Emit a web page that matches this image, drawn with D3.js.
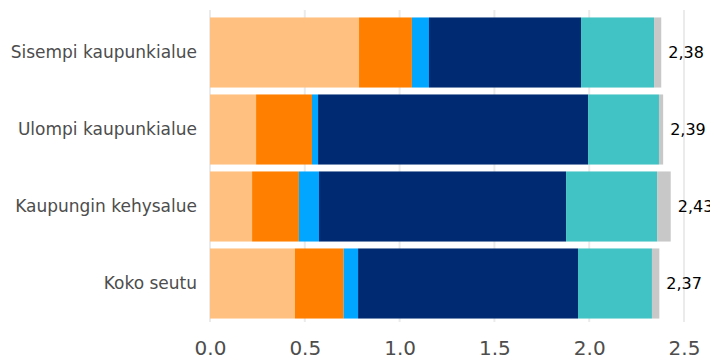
<!DOCTYPE html>
<html>
<head>
<meta charset="utf-8">
<script src="https://cdn.jsdelivr.net/npm/d3@7"></script>
<style>
  body { margin: 0; background: #fff; }
  text { font-family: 'DejaVu Sans', Verdana, sans-serif; }
</style>
</head>
<body>
<div id="chart"></div>
<script>
const categories = ['Sisempi kaupunkialue', 'Ulompi kaupunkialue', 'Kaupungin kehysalue', 'Koko seutu']
const seriesKeys = ['s1', 's2', 's3', 's4', 's5', 's6']
const seriesColors = ['#ffc080', '#ff8000', '#00a6ff', '#002b73', '#41c2c4', '#c8c8c8']
const s1 = [0.786, 0.243, 0.222, 0.448]
const s2 = [0.279, 0.295, 0.247, 0.257]
const s3 = [0.090, 0.032, 0.106, 0.076]
const s4 = [0.802, 1.424, 1.303, 1.160]
const s5 = [0.385, 0.374, 0.480, 0.390]
const s6 = [0.038, 0.022, 0.072, 0.039]
const totalLabels = ['2,38', '2,39', '2,43', '2,37']
const xTicks = [0, 0.5, 1, 1.5, 2, 2.5]

const margin = { top: 14, left: 210, right: 26, bottom: 36 }
const width = 710 - margin.left - margin.right
const height = 358 - margin.top - margin.bottom

const rows = categories.map((c, i) => ({
  category: c,
  s1: s1[i], s2: s2[i], s3: s3[i], s4: s4[i], s5: s5[i], s6: s6[i],
  label: totalLabels[i]
}))

const svg = d3
  .select('#chart')
  .append('svg')
  .attr('width', 710)
  .attr('height', 358)
  .append('g')
  .attr('transform', 'translate(' + margin.left + ',' + margin.top + ')')

const xScale = d3.scaleLinear().domain([0, 2.5]).range([0, 474])
const yScale = d3.scaleBand().domain(categories).range([0, height]).paddingInner(0.09).paddingOuter(0.045)
const colorScale = d3.scaleOrdinal().domain(seriesKeys).range(seriesColors)

// gridlines
svg
  .selectAll('.grid')
  .data(xTicks)
  .enter()
  .append('line')
  .attr('x1', d => xScale(d))
  .attr('x2', d => xScale(d))
  .attr('y1', -4)
  .attr('y2', height)
  .attr('stroke', '#ebebeb')
  .attr('stroke-width', 2)

const stacked = d3.stack().keys(seriesKeys)(rows)

svg
  .selectAll('.layer')
  .data(stacked)
  .enter()
  .append('g')
  .attr('fill', d => colorScale(d.key))
  .selectAll('rect')
  .data(d => d)
  .enter()
  .append('rect')
  .attr('x', d => xScale(d[0]))
  .attr('width', d => xScale(d[1]) - xScale(d[0]))
  .attr('y', d => yScale(d.data.category))
  .attr('height', yScale.bandwidth())

// total labels
svg
  .selectAll('.total')
  .data(rows)
  .enter()
  .append('text')
  .text(d => d.label)
  .attr('x', d => xScale(d.s1 + d.s2 + d.s3 + d.s4 + d.s5 + d.s6) + 7)
  .attr('y', d => yScale(d.category) + yScale.bandwidth() / 2)
  .attr('dy', '0.35em')
  .attr('font-size', 16)
  .attr('fill', '#000')

// category labels
svg
  .selectAll('.cat')
  .data(categories)
  .enter()
  .append('text')
  .text(d => d)
  .attr('x', -13)
  .attr('y', d => yScale(d) + yScale.bandwidth() / 2)
  .attr('dy', '0.35em')
  .attr('text-anchor', 'end')
  .attr('font-size', 17)
  .attr('fill', '#4d4d4d')

// x axis
const xAxis = d3.axisBottom(xScale).tickValues(xTicks).tickFormat(d3.format('.1f')).tickSize(0).tickPadding(19)
const axisG = svg.append('g').attr('transform', 'translate(0,' + height + ')').call(xAxis)
axisG.select('.domain').remove()
axisG.selectAll('text').attr('font-size', 20).attr('fill', '#4d4d4d').attr('font-family', "'DejaVu Sans', Verdana, sans-serif")
</script>
</body>
</html>
